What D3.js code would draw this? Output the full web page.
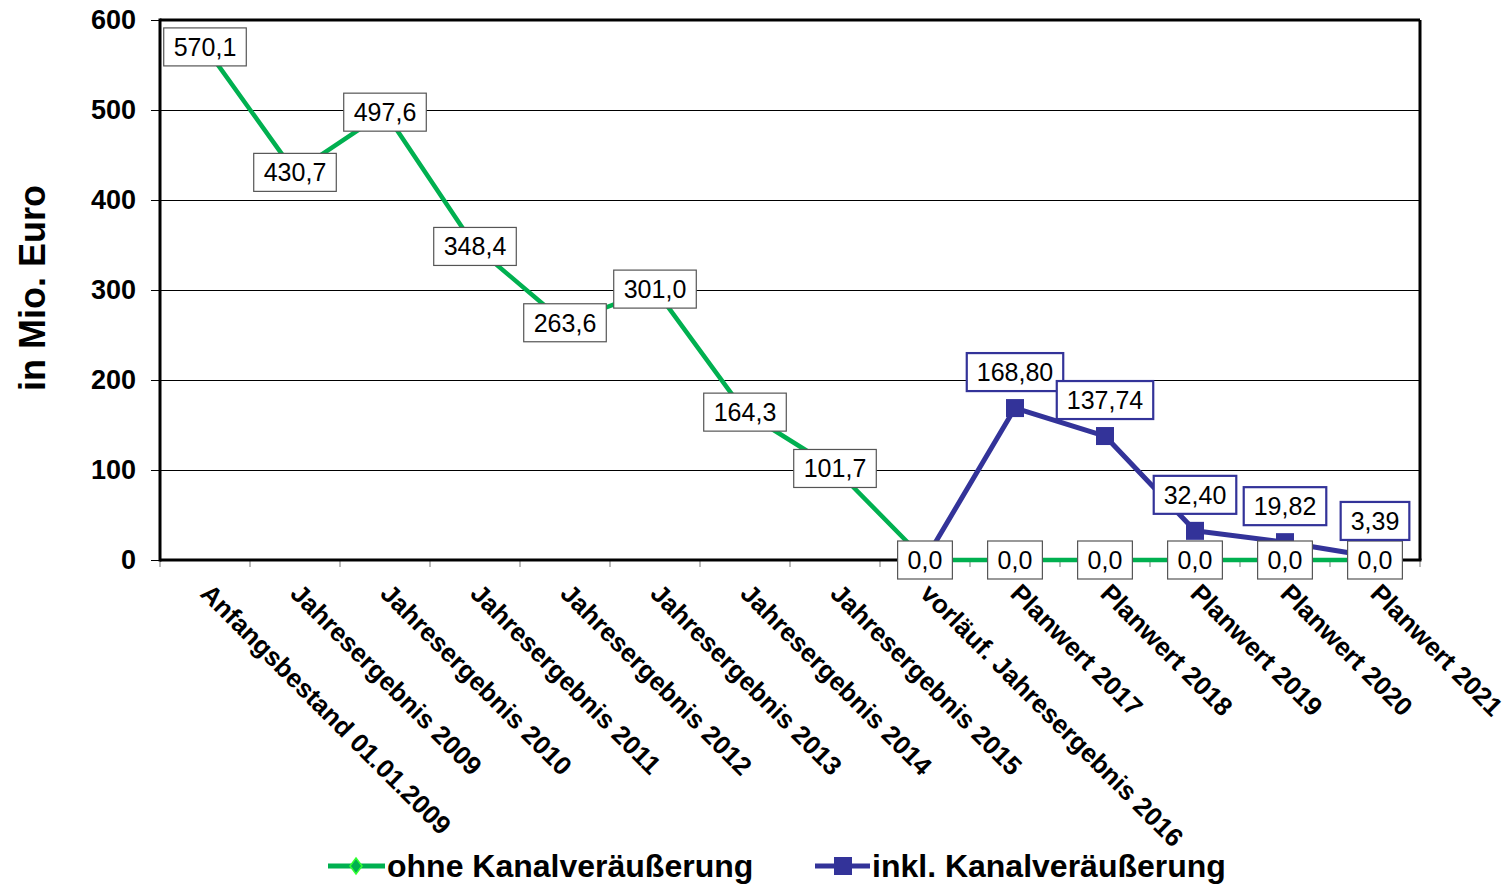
<!DOCTYPE html>
<meta charset="utf-8">

<style>
  body { margin: 0; background: #fff; }
  text { font-family: Arial, "Liberation Sans", sans-serif; }
</style>

<svg class="chart"></svg>

<script src="https://d3js.org/d3.v7.min.js"></script>
<script>

  var categories = [
    "Anfangsbestand 01.01.2009",
    "Jahresergebnis 2009",
    "Jahresergebnis 2010",
    "Jahresergebnis 2011",
    "Jahresergebnis 2012",
    "Jahresergebnis 2013",
    "Jahresergebnis 2014",
    "Jahresergebnis 2015",
    "vorläuf. Jahresergebnis 2016",
    "Planwert 2017",
    "Planwert 2018",
    "Planwert 2019",
    "Planwert 2020",
    "Planwert 2021"
  ];

  var ohneValues = [570.1, 430.7, 497.6, 348.4, 263.6, 301.0, 164.3, 101.7, 0, 0, 0, 0, 0, 0];
  var ohneLabels = ["570,1", "430,7", "497,6", "348,4", "263,6", "301,0", "164,3", "101,7",
                    "0,0", "0,0", "0,0", "0,0", "0,0", "0,0"];

  // inkl. series starts at the 2016 value
  var inklValues = [null, null, null, null, null, null, null, null, 0, 168.80, 137.74, 32.40, 19.82, 3.39];
  var inklLabels = [null, null, null, null, null, null, null, null, null, "168,80", "137,74", "32,40", "19,82", "3,39"];

  var yTicks = [0, 100, 200, 300, 400, 500, 600];

  var seriesNames = ["ohne Kanalveräußerung", "inkl. Kanalveräußerung"];

  var width  = 1512;
  var height = 885;
  var margin = { left: 160, top: 20, right: 92, bottom: 325 };
  var plotW = width - margin.left - margin.right;
  var plotH = height - margin.top - margin.bottom;

  var green = "#00b050";
  var blue  = "#333399";

  var chart = d3.select(".chart")
      .attr("width", width)
      .attr("height", height);

  var x = d3.scaleBand()
      .domain(categories)
      .range([margin.left, margin.left + plotW]);

  var y = d3.scaleLinear()
      .domain([0, 600])
      .range([margin.top + plotH, margin.top]);

  function cx(i) { return x(categories[i]) + x.bandwidth() / 2; }

  // gridlines
  chart.append("g")
      .attr("shape-rendering", "crispEdges")
    .selectAll("line")
    .data(yTicks.slice(1, -1))
    .enter().append("line")
      .attr("x1", margin.left)
      .attr("x2", margin.left + plotW)
      .attr("y1", function(d) { return y(d) + 0.5; })
      .attr("y2", function(d) { return y(d) + 0.5; })
      .attr("stroke", "#000")
      .attr("stroke-width", 1);

  // y axis
  var yAxis = chart.append("g")
      .attr("transform", "translate(" + margin.left + ",0)")
      .call(d3.axisLeft(y).tickValues(yTicks).tickSize(9).tickPadding(15));
  yAxis.select(".domain").remove();
  yAxis.selectAll(".tick line").attr("stroke", "#000");
  yAxis.selectAll("text")
      .attr("font-size", 27)
      .attr("font-weight", "bold")
      .attr("fill", "#000");

  // x axis ticks at category boundaries
  var xAxis = chart.append("g")
      .attr("transform", "translate(0," + (margin.top + plotH) + ")");
  xAxis.selectAll("line")
    .data(d3.range(categories.length + 1))
    .enter().append("line")
      .attr("x1", function(i) { return margin.left + i * x.bandwidth(); })
      .attr("x2", function(i) { return margin.left + i * x.bandwidth(); })
      .attr("y1", 0)
      .attr("y2", 7)
      .attr("stroke", "#777");

  xAxis.selectAll("text")
    .data(categories)
    .enter().append("text")
      .attr("transform", function(d, i) {
        return "translate(" + (cx(i) - 6) + ",35) rotate(45)";
      })
      .attr("font-size", 26)
      .attr("font-weight", "bold")
      .text(function(d) { return d; });

  // plot frame
  chart.append("line")
      .attr("x1", margin.left).attr("x2", margin.left + plotW)
      .attr("y1", margin.top).attr("y2", margin.top)
      .attr("stroke", "#000").attr("stroke-width", 3);
  chart.append("line")
      .attr("x1", margin.left + plotW).attr("x2", margin.left + plotW)
      .attr("y1", margin.top).attr("y2", margin.top + plotH)
      .attr("stroke", "#000").attr("stroke-width", 3);
  chart.append("line")
      .attr("x1", margin.left).attr("x2", margin.left)
      .attr("y1", margin.top - 1.5).attr("y2", margin.top + plotH + 1.5)
      .attr("stroke", "#000").attr("stroke-width", 3);
  chart.append("line")
      .attr("x1", margin.left).attr("x2", margin.left + plotW + 1.5)
      .attr("y1", margin.top + plotH).attr("y2", margin.top + plotH)
      .attr("stroke", "#000").attr("stroke-width", 3);

  var line = d3.line()
      .defined(function(d) { return d != null; })
      .x(function(d, i) { return cx(i); })
      .y(function(d) { return y(d); });

  chart.append("path")
      .datum(inklValues)
      .attr("d", line)
      .attr("fill", "none")
      .attr("stroke", blue)
      .attr("stroke-width", 5)
      .attr("stroke-linejoin", "round");

  chart.append("path")
      .datum(ohneValues)
      .attr("d", line)
      .attr("fill", "none")
      .attr("stroke", green)
      .attr("stroke-width", 4.5)
      .attr("stroke-linejoin", "round");

  // blue markers
  chart.append("g")
    .selectAll("rect")
    .data(inklValues.map(function(v, i) { return { v: v, i: i }; })
      .filter(function(d) { return d.v != null && d.i > 8; }))
    .enter().append("rect")
      .attr("x", function(d) { return cx(d.i) - 9; })
      .attr("y", function(d) { return y(d.v) - 9; })
      .attr("width", 18)
      .attr("height", 18)
      .attr("fill", blue);

  function addLabels(values, labels, offset, stroke, sw) {
    var g = chart.append("g");
    values.forEach(function(v, i) {
      if (labels[i] == null) return;
      var lx = cx(i);
      var ly = y(v) + offset;
      var t = g.append("text")
          .attr("x", lx)
          .attr("y", ly + 9)
          .attr("text-anchor", "middle")
          .attr("font-size", 25)
          .text(labels[i]);
      var w = t.node().getComputedTextLength() + 20;
      g.insert("rect", function() { return t.node(); })
          .attr("x", lx - w / 2)
          .attr("y", ly - 19)
          .attr("width", w)
          .attr("height", 38)
          .attr("fill", "#fff")
          .attr("stroke", stroke)
          .attr("stroke-width", sw);
    });
  }

  addLabels(ohneValues, ohneLabels, 0, "#555", 1.2);
  addLabels(inklValues, inklLabels, -36, blue, 2.2);

  // legend
  var legend = chart.append("g")
      .attr("transform", "translate(0,866)");

  legend.append("line")
      .attr("x1", 328).attr("x2", 385)
      .attr("stroke", green).attr("stroke-width", 5);
  legend.append("path")
      .attr("d", "M356,-8 L362,0 L356,8 L350,0 Z")
      .attr("fill", green)
      .attr("stroke", "#33ff33")
      .attr("stroke-width", 1.5);
  legend.append("text")
      .attr("x", 387).attr("y", 11)
      .attr("font-size", 32)
      .attr("font-weight", "bold")
      .text(seriesNames[0]);

  legend.append("line")
      .attr("x1", 815).attr("x2", 870)
      .attr("stroke", blue).attr("stroke-width", 5);
  legend.append("rect")
      .attr("x", 834).attr("y", -9)
      .attr("width", 18).attr("height", 18)
      .attr("fill", blue);
  legend.append("text")
      .attr("x", 872).attr("y", 11)
      .attr("font-size", 32)
      .attr("font-weight", "bold")
      .text(seriesNames[1]);

  // y axis title
  chart.append("text")
      .attr("transform", "translate(45,288) rotate(-90)")
      .attr("text-anchor", "middle")
      .attr("font-size", 36)
      .attr("font-weight", "bold")
      .text("in Mio. Euro");

</script>
